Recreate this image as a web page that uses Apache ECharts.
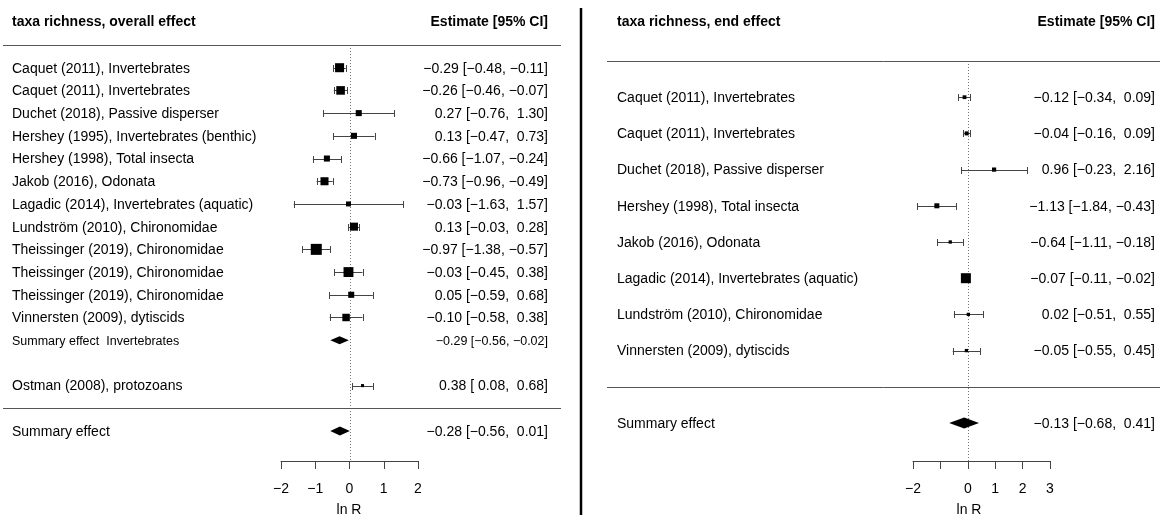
<!DOCTYPE html>
<html><head><meta charset="utf-8">
<script src="https://cdn.jsdelivr.net/npm/echarts@6/dist/echarts.min.js"></script>
<style>html,body{margin:0;padding:0;background:#fff}#c{width:1160px;height:515px}</style>
</head><body><div id="c"></div>
<script>
// ---------- DATA: left panel (overall effect) ----------
const leftStudies = [
  'Caquet (2011), Invertebrates',
  'Caquet (2011), Invertebrates',
  'Duchet (2018), Passive disperser',
  'Hershey (1995), Invertebrates (benthic)',
  'Hershey (1998), Total insecta',
  'Jakob (2016), Odonata',
  'Lagadic (2014), Invertebrates (aquatic)',
  'Lundström (2010), Chironomidae',
  'Theissinger (2019), Chironomidae',
  'Theissinger (2019), Chironomidae',
  'Theissinger (2019), Chironomidae',
  'Vinnersten (2009), dytiscids',
  'Ostman (2008), protozoans'
];
const leftEst   = [-0.29, -0.26, 0.27, 0.13, -0.66, -0.73, -0.03, 0.13, -0.97, -0.03, 0.05, -0.10, 0.38];
const leftLower = [-0.48, -0.46, -0.76, -0.47, -1.07, -0.96, -1.63, -0.03, -1.38, -0.45, -0.59, -0.58, 0.08];
const leftUpper = [-0.11, -0.07, 1.30, 0.73, -0.24, -0.49, 1.57, 0.28, -0.57, 0.38, 0.68, 0.38, 0.68];
const leftWeight = [0.82, 0.78, 0.55, 0.55, 0.55, 0.73, 0.45, 0.73, 1.0, 0.9, 0.55, 0.68, 0.28];
const leftRows  = [0, 1, 2, 3, 4, 5, 6, 7, 8, 9, 10, 11, 14];
const leftSummaryLabels = ['Summary effect  Invertebrates', 'Summary effect'];
const leftSummaryEst    = [-0.29, -0.28];
const leftSummaryLower  = [-0.56, -0.56];
const leftSummaryUpper  = [-0.02, 0.01];
const leftSummaryRows   = [12, 16];
const leftRuleRows      = [-1, 15];
const leftTicks = [-2, -1, 0, 1, 2];

// ---------- DATA: right panel (end effect) ----------
const rightStudies = [
  'Caquet (2011), Invertebrates',
  'Caquet (2011), Invertebrates',
  'Duchet (2018), Passive disperser',
  'Hershey (1998), Total insecta',
  'Jakob (2016), Odonata',
  'Lagadic (2014), Invertebrates (aquatic)',
  'Lundström (2010), Chironomidae',
  'Vinnersten (2009), dytiscids'
];
const rightEst   = [-0.12, -0.04, 0.96, -1.13, -0.64, -0.07, 0.02, -0.05];
const rightLower = [-0.34, -0.16, -0.23, -1.84, -1.11, -0.11, -0.51, -0.55];
const rightUpper = [0.09, 0.09, 2.16, -0.43, -0.18, -0.02, 0.55, 0.45];
const rightWeight = [0.38, 0.4, 0.42, 0.5, 0.33, 1.0, 0.33, 0.33];
const rightRows  = [0, 1, 2, 3, 4, 5, 6, 7];
const rightSummaryLabels = ['Summary effect'];
const rightSummaryEst    = [-0.13];
const rightSummaryLower  = [-0.68];
const rightSummaryUpper  = [0.41];
const rightSummaryRows   = [9];
const rightRuleRows      = [-1, 8];
const rightTicks = [-2, -1, 0, 1, 2, 3];
const rightTickLabels = ['\u22122', '', '0', '1', '2', '3'];

// ---------- STYLE / LAYOUT ----------
const FONT = '"Liberation Sans", Arial, sans-serif';
const CI_COLOR = '#444';
const panels = [
  { studies: leftStudies, est: leftEst, lo: leftLower, hi: leftUpper, w: leftWeight, rows: leftRows,
    sLab: leftSummaryLabels, sEst: leftSummaryEst, sLo: leftSummaryLower, sHi: leftSummaryUpper, sRows: leftSummaryRows,
    sFont: [12.5, 14], sHalf: [4, 4.5], ruleRows: leftRuleRows,
    labelX: 12, estX: 548, ruleX0: 3, ruleX1: 561, maxSq: 11, whisk: 3.5,
    yMin: -1, yMax: 17.32 },
  { studies: rightStudies, est: rightEst, lo: rightLower, hi: rightUpper, w: rightWeight, rows: rightRows,
    sLab: rightSummaryLabels, sEst: rightSummaryEst, sLo: rightSummaryLower, sHi: rightSummaryUpper, sRows: rightSummaryRows,
    sFont: [14], sHalf: [5.5], ruleRows: rightRuleRows,
    labelX: 617, estX: 1155, ruleX0: 607, ruleX1: 1160, maxSq: 10, whisk: 3.5,
    yMin: -1, yMax: 10.05 }
];

function fmtNum(v) {
  const s = Math.abs(v).toFixed(2);
  return v < 0 ? '\u2212' + s : ' ' + s;
}
function ciText(e, l, u) {
  return fmtNum(e).trim() + ' [' + fmtNum(l) + ', ' + fmtNum(u) + ']';
}
function crisp(v) { return Math.round(v) + 0.5; }

const series = [];
panels.forEach(function (p, gi) {
  // reference (zero) line
  series.push({
    type: 'custom', xAxisIndex: gi, yAxisIndex: gi, silent: true, clip: false,
    data: [[0, p.yMin, p.yMax]],
    renderItem: function (params, api) {
      const a = api.coord([api.value(0), api.value(1)]);
      const b = api.coord([api.value(0), api.value(2)]);
      return { type: 'line', shape: { x1: crisp(a[0]), y1: a[1], x2: crisp(b[0]), y2: b[1] },
        style: { stroke: '#777', lineWidth: 1, lineDash: [1, 2] } };
    }
  });
  // horizontal rules
  series.push({
    type: 'custom', xAxisIndex: gi, yAxisIndex: gi, silent: true, clip: false,
    data: p.ruleRows.map(function (r) { return [0, r]; }),
    renderItem: function (params, api) {
      const y = crisp(api.coord([0, api.value(1)])[1]);
      return { type: 'line', shape: { x1: p.ruleX0, y1: y, x2: p.ruleX1, y2: y },
        style: { stroke: '#555', lineWidth: 1 } };
    }
  });
  // studies
  series.push({
    type: 'custom', xAxisIndex: gi, yAxisIndex: gi, silent: true, clip: false,
    data: p.est.map(function (e, i) { return [e, p.rows[i], p.lo[i], p.hi[i], p.w[i]]; }),
    renderItem: function (params, api) {
      const i = params.dataIndex;
      const c = api.coord([api.value(0), api.value(1)]);
      const y = crisp(c[1]);
      const xl = api.coord([api.value(2), api.value(1)])[0];
      const xu = api.coord([api.value(3), api.value(1)])[0];
      const s = api.value(4) * p.maxSq;
      const ls = { stroke: CI_COLOR, lineWidth: 1 };
      return { type: 'group', children: [
        { type: 'line', shape: { x1: xl, y1: y, x2: xu, y2: y }, style: ls },
        { type: 'line', shape: { x1: crisp(xl), y1: y - p.whisk, x2: crisp(xl), y2: y + p.whisk }, style: ls },
        { type: 'line', shape: { x1: crisp(xu), y1: y - p.whisk, x2: crisp(xu), y2: y + p.whisk }, style: ls },
        { type: 'rect', shape: { x: c[0] - s / 2, y: c[1] - s / 2, width: s, height: s }, style: { fill: '#000' } },
        { type: 'text', x: p.labelX, y: c[1] + 1, style: { text: p.studies[i], fill: '#000',
          font: '14px ' + FONT, align: 'left', verticalAlign: 'middle' } },
        { type: 'text', x: p.estX, y: c[1] + 1, style: { text: ciText(p.est[i], p.lo[i], p.hi[i]), fill: '#000',
          font: '14px ' + FONT, align: 'right', verticalAlign: 'middle' } }
      ] };
    }
  });
  // summary diamonds
  series.push({
    type: 'custom', xAxisIndex: gi, yAxisIndex: gi, silent: true, clip: false,
    data: p.sEst.map(function (e, i) { return [e, p.sRows[i], p.sLo[i], p.sHi[i]]; }),
    renderItem: function (params, api) {
      const i = params.dataIndex;
      const c = api.coord([api.value(0), api.value(1)]);
      const xl = api.coord([api.value(2), api.value(1)])[0];
      const xu = api.coord([api.value(3), api.value(1)])[0];
      const h = p.sHalf[i];
      const fs = p.sFont[i];
      return { type: 'group', children: [
        { type: 'polygon', shape: { points: [[xl, c[1]], [c[0], c[1] - h], [xu, c[1]], [c[0], c[1] + h]] },
          style: { fill: '#000' } },
        { type: 'text', x: p.labelX, y: c[1] + 1, style: { text: p.sLab[i], fill: '#000',
          font: fs + 'px ' + FONT, align: 'left', verticalAlign: 'middle' } },
        { type: 'text', x: p.estX, y: c[1] + 1, style: { text: ciText(p.sEst[i], p.sLo[i], p.sHi[i]), fill: '#000',
          font: fs + 'px ' + FONT, align: 'right', verticalAlign: 'middle' } }
      ] };
    }
  });
});

function xAxisCfg(gi, ticks, labels) {
  return {
    gridIndex: gi, type: 'value', min: ticks[0], max: ticks[ticks.length - 1], interval: 1,
    axisLine: { show: true, onZero: false, lineStyle: { color: '#444', width: 1 } },
    axisTick: { show: true, length: 8, lineStyle: { color: '#444', width: 1 } },
    axisLabel: { margin: 21, color: '#000', fontSize: 14, fontFamily: FONT,
      formatter: function (v) {
        const k = ticks.indexOf(v);
        if (labels) return k >= 0 ? labels[k] : '';
        return v < 0 ? '\u2212' + Math.abs(v) : String(v);
      } },
    splitLine: { show: false }
  };
}

const option = {
  animation: false,
  backgroundColor: '#fff',
  grid: [
    { left: 281, width: 137, top: 45, height: 416, outerBoundsMode: 'none', containLabel: false },
    { left: 913, width: 137, top: 61, height: 400, outerBoundsMode: 'none', containLabel: false }
  ],
  xAxis: [xAxisCfg(0, leftTicks, null), xAxisCfg(1, rightTicks, rightTickLabels)],
  yAxis: [
    { gridIndex: 0, type: 'value', inverse: true, min: panels[0].yMin, max: panels[0].yMax, show: false },
    { gridIndex: 1, type: 'value', inverse: true, min: panels[1].yMin, max: panels[1].yMax, show: false }
  ],
  graphic: [
    { type: 'line', shape: { x1: 581, y1: 8, x2: 581, y2: 515 }, style: { stroke: '#000', lineWidth: 2.5 } },
    { type: 'text', x: 12, y: 22, style: { text: 'taxa richness, overall effect', fill: '#000',
      font: 'bold 14px ' + FONT, align: 'left', verticalAlign: 'middle' } },
    { type: 'text', x: 548, y: 22, style: { text: 'Estimate [95% CI]', fill: '#000',
      font: 'bold 14px ' + FONT, align: 'right', verticalAlign: 'middle' } },
    { type: 'text', x: 617, y: 22, style: { text: 'taxa richness, end effect', fill: '#000',
      font: 'bold 14px ' + FONT, align: 'left', verticalAlign: 'middle' } },
    { type: 'text', x: 1155, y: 22, style: { text: 'Estimate [95% CI]', fill: '#000',
      font: 'bold 14px ' + FONT, align: 'right', verticalAlign: 'middle' } },
    { type: 'text', x: 349, y: 510, style: { text: 'ln R', fill: '#000',
      font: '14px ' + FONT, align: 'center', verticalAlign: 'middle' } },
    { type: 'text', x: 969, y: 510, style: { text: 'ln R', fill: '#000',
      font: '14px ' + FONT, align: 'center', verticalAlign: 'middle' } }
  ],
  series: series
};

const chart = echarts.init(document.getElementById('c'), null, { renderer: 'canvas' });
chart.setOption(option);
</script>
</body></html>
